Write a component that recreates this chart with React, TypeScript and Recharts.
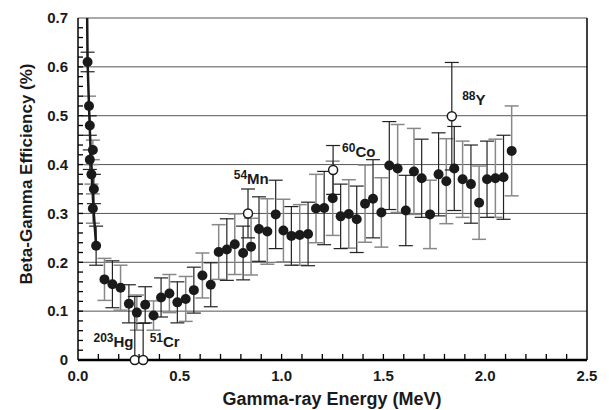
import React from 'react';
import { ComposedChart, Scatter, XAxis, YAxis, CartesianGrid, ErrorBar, ReferenceLine, Label } from 'recharts';

// measured beta-gamma coincidence efficiency vs gamma energy
const ENERGY = [
  0.047, 0.054, 0.058, 0.073, 0.058, 0.066, 0.078, 0.073, 0.089, 0.13,
  0.169, 0.209, 0.25, 0.289, 0.33, 0.371, 0.408, 0.449, 0.488, 0.529,
  0.569, 0.611, 0.652, 0.691, 0.731, 0.77, 0.811, 0.85, 0.889, 0.93,
  0.971, 1.009, 1.048, 1.089, 1.13, 1.169, 1.209, 1.251, 1.29, 1.33,
  1.369, 1.41, 1.449, 1.49, 1.529, 1.57, 1.61, 1.65, 1.688, 1.729,
  1.771, 1.809, 1.848, 1.889, 1.93, 1.97, 2.009, 2.05, 2.09, 2.13,
];
const EFFICIENCY = [
  0.61, 0.52, 0.48, 0.43, 0.41, 0.38, 0.35, 0.31, 0.234, 0.165,
  0.155, 0.148, 0.115, 0.097, 0.113, 0.091, 0.128, 0.136, 0.118, 0.125,
  0.143, 0.173, 0.154, 0.221, 0.226, 0.237, 0.219, 0.232, 0.268, 0.263,
  0.298, 0.265, 0.254, 0.256, 0.258, 0.31, 0.311, 0.331, 0.294, 0.299,
  0.288, 0.32, 0.33, 0.302, 0.398, 0.392, 0.306, 0.386, 0.372, 0.298,
  0.38, 0.366, 0.392, 0.37, 0.36, 0.322, 0.37, 0.372, 0.374, 0.428,
];
const UNCERTAINTY = [
  0.02, 0.02, 0.02, 0.02, 0.02, 0.02, 0.03, 0.03, 0.04, 0.043,
  0.048, 0.046, 0.039, 0.036, 0.037, 0.03, 0.04, 0.039, 0.042, 0.046,
  0.047, 0.046, 0.045, 0.056, 0.063, 0.062, 0.055, 0.058, 0.066, 0.067,
  0.07, 0.064, 0.06, 0.062, 0.065, 0.07, 0.075, 0.076, 0.066, 0.07,
  0.068, 0.079, 0.08, 0.071, 0.09, 0.09, 0.072, 0.088, 0.08, 0.07,
  0.085, 0.087, 0.086, 0.078, 0.08, 0.075, 0.078, 0.08, 0.086, 0.092,
];

// steep low-energy trace
const TRACE_ENERGY = [0.045, 0.047, 0.054, 0.06, 0.068, 0.076, 0.089];
const TRACE_EFF = [0.7, 0.61, 0.52, 0.45, 0.38, 0.31, 0.234];

// calibration sources (open circles)
const SOURCE_MASS = ['203', '51', '54', '60', '88'];
const SOURCE_SYMBOL = ['Hg', 'Cr', 'Mn', 'Co', 'Y'];
const SOURCE_ENERGY = [0.279, 0.32, 0.835, 1.253, 1.836];
const SOURCE_EFF = [0, 0, 0.3, 0.389, 0.499];
const SOURCE_ERR_LOW = [0, 0, 0.05, 0.05, 0.11];
const SOURCE_ERR_HIGH = [0.13, 0.075, 0.05, 0.05, 0.11];
// where each source name is written
const SOURCE_LABEL_X = [0.076, 0.352, 0.765, 1.297, 1.887];
const SOURCE_LABEL_Y = [0.027, 0.027, 0.36, 0.4165, 0.522];

const X_TICKS = [0, 0.5, 1.0, 1.5, 2.0, 2.5];
const Y_TICKS = [0, 0.1, 0.2, 0.3, 0.4, 0.5, 0.6, 0.7];
const X_MINOR = [0.1, 0.2, 0.3, 0.4, 0.5, 0.6, 0.7, 0.8, 0.9, 1.0, 1.1, 1.2, 1.3, 1.4, 1.5, 1.6, 1.7, 1.8, 1.9, 2.0, 2.1, 2.2, 2.3, 2.4];
const Y_MINOR = [
  0.02, 0.04, 0.06, 0.08, 0.1, 0.12, 0.14, 0.16, 0.18, 0.2, 0.22, 0.24, 0.26, 0.28, 0.3, 0.32, 0.34,
  0.36, 0.38, 0.4, 0.42, 0.44, 0.46, 0.48, 0.5, 0.52, 0.54, 0.56, 0.58, 0.6, 0.62, 0.64, 0.66, 0.68,
];

const FONT = '"Liberation Sans", Arial, sans-serif';
const INK = '#1a1a1a';

const points = ENERGY.map((x, i) => ({ x, y: EFFICIENCY[i], err: UNCERTAINTY[i] }));
const darkBars = points.filter((_, i) => i % 2 === 0);
const greyBars = points.filter((_, i) => i % 2 === 1);
const trace = TRACE_ENERGY.map((x, i) => ({ x, y: TRACE_EFF[i] }));
const sources = SOURCE_ENERGY.map((x, i) => ({
  x,
  y: SOURCE_EFF[i],
  err: [SOURCE_ERR_LOW[i], SOURCE_ERR_HIGH[i]],
}));
const sourceLabels = SOURCE_LABEL_X.map((x, i) => ({
  x,
  y: SOURCE_LABEL_Y[i],
  mass: SOURCE_MASS[i],
  symbol: SOURCE_SYMBOL[i],
}));
const xMinor = X_MINOR.map((x) => ({ x, y: 0, dir: 'up' }));
const yMinor = Y_MINOR.map((y) => ({ x: 0, y, dir: 'right' }));
const minorTicks = [...xMinor, ...yMinor];

const Dot = (p: any) => <circle cx={p.cx} cy={p.cy} r={5} fill={INK} />;
const OpenDot = (p: any) => <circle cx={p.cx} cy={p.cy} r={4.5} fill="#fff" stroke={INK} strokeWidth={1.5} />;
const Nothing = () => <g />;
// inward minor tick marks
const MinorTick = (p: any) =>
  p.payload.dir === 'up' ? (
    <rect x={p.cx - 0.65} y={p.cy - 6} width={1.3} height={6} fill="#000" />
  ) : (
    <rect x={p.cx} y={p.cy - 0.65} width={5} height={1.3} fill="#000" />
  );
const SourceName = (p: any) => (
  <text x={p.cx} y={p.cy} fontFamily={FONT} fontWeight="bold" fill={INK}>
    <tspan fontSize={12} dy={-5}>{p.payload.mass}</tspan>
    <tspan fontSize={15} dy={5}>{p.payload.symbol}</tspan>
  </text>
);

const tickStyle = { fontFamily: FONT, fontWeight: 'bold', fontSize: 15, fill: INK };

export default function App() {
  return (
    <ComposedChart width={601} height={402} margin={{ top: 10, right: 22, bottom: 25, left: 0 }}>
      <CartesianGrid vertical={false} stroke="#555" strokeWidth={1} />
      <XAxis
        type="number"
        dataKey="x"
        domain={[0, 2.5]}
        ticks={X_TICKS}
        tickFormatter={(v: number) => v.toFixed(1)}
        tickLine={false}
        tickSize={0}
        tickMargin={10}
        height={25}
        axisLine={{ stroke: '#000', strokeWidth: 2.5 }}
        tick={tickStyle}
      >
        <Label
          content={() => (
            <text x={324} y={397} textAnchor="middle" fontFamily={FONT} fontWeight="bold" fontSize={18} fill={INK}>
              Gamma-ray Energy (MeV)
            </text>
          )}
        />
      </XAxis>
      <YAxis
        type="number"
        domain={[0, 0.7]}
        ticks={Y_TICKS}
        width={70}
        tickFormatter={(v: number) => (v === 0 ? '0' : v.toFixed(1))}
        tickLine={false}
        tickSize={0}
        tickMargin={10}
        axisLine={{ stroke: '#000', strokeWidth: 1.5 }}
        tick={tickStyle}
      >
        <Label
          content={() => (
            <text
              x={18}
              y={166}
              transform="rotate(-90 18 166)"
              textAnchor="middle"
              dominantBaseline="central"
              fontFamily={FONT}
              fontWeight="bold"
              fontSize={17}
              fill={INK}
            >
              Beta-Gamma Efficiency (%)
            </text>
          )}
        />
      </YAxis>
      <ReferenceLine x={2.5} stroke="#000" strokeWidth={1.5} />
      <Scatter data={minorTicks} dataKey="y" shape={MinorTick} isAnimationActive={false} />
      <Scatter data={trace} dataKey="y" line={{ stroke: INK, strokeWidth: 2.5 }} shape={Nothing} isAnimationActive={false} />
      <Scatter data={greyBars} dataKey="y" shape={Dot} isAnimationActive={false}>
        <ErrorBar dataKey="err" direction="y" width={7} stroke="#888" strokeWidth={1.5} />
      </Scatter>
      <Scatter data={darkBars} dataKey="y" shape={Dot} isAnimationActive={false}>
        <ErrorBar dataKey="err" direction="y" width={7} stroke="#222" strokeWidth={1.2} />
      </Scatter>
      <Scatter data={sources} dataKey="y" shape={OpenDot} isAnimationActive={false}>
        <ErrorBar dataKey="err" direction="y" width={7} stroke="#222" strokeWidth={1.2} />
      </Scatter>
      <Scatter data={sourceLabels} dataKey="y" shape={SourceName} isAnimationActive={false} />
    </ComposedChart>
  );
}
